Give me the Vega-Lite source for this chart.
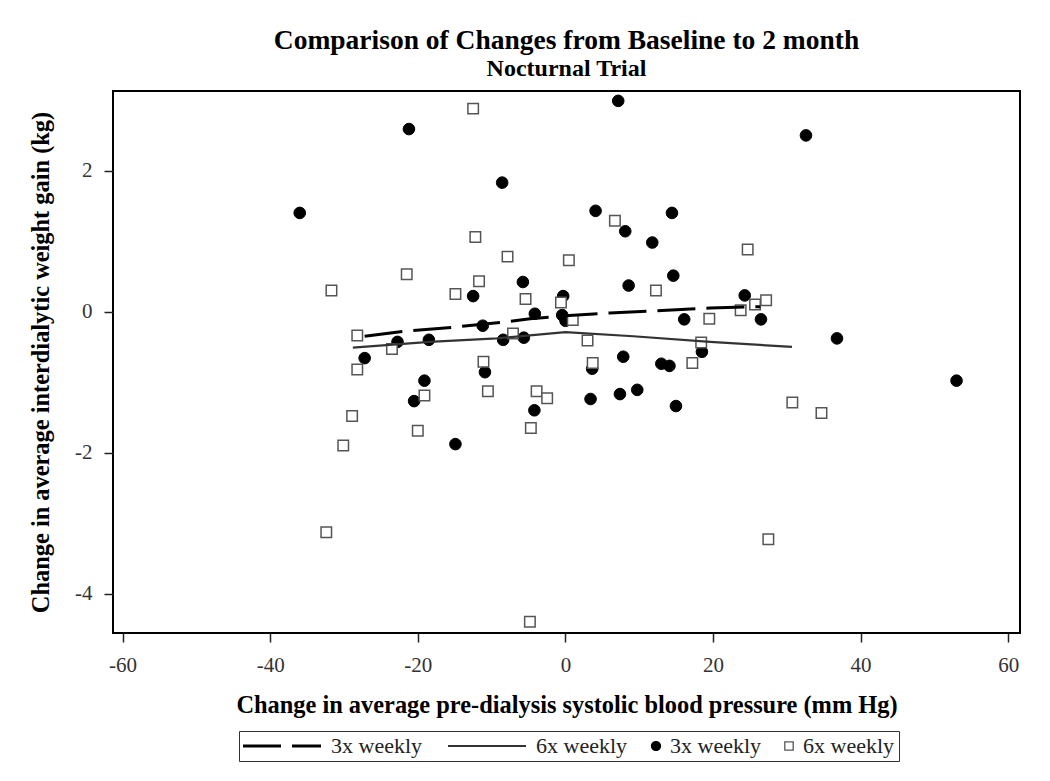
{
  "$schema": "https://vega.github.io/schema/vega-lite/v6.json",
  "width": 907,
  "height": 542,
  "autosize": "none",
  "padding": {"left": 113, "top": 91, "right": 30, "bottom": 148},
  "background": "white",
  "title": {
    "text": "Comparison of Changes from Baseline to 2 month",
    "subtitle": "Nocturnal Trial",
    "font": "Liberation Serif",
    "fontSize": 27.5,
    "fontWeight": "bold",
    "color": "black",
    "subtitleFont": "Liberation Serif",
    "subtitleFontSize": 24,
    "subtitleFontWeight": "bold",
    "subtitleColor": "black",
    "subtitlePadding": 3,
    "anchor": "middle",
    "offset": 10
  },
  "data": {
    "values": [
      {"series": "3x weekly", "x": -36.0, "y": 1.40},
      {"series": "3x weekly", "x": -21.2, "y": 2.59},
      {"series": "3x weekly", "x": -8.57, "y": 1.83},
      {"series": "3x weekly", "x": 7.16, "y": 2.99},
      {"series": "3x weekly", "x": 4.09, "y": 1.43},
      {"series": "3x weekly", "x": 8.11, "y": 1.14},
      {"series": "3x weekly", "x": 11.77, "y": 0.98},
      {"series": "3x weekly", "x": 14.44, "y": 1.40},
      {"series": "3x weekly", "x": 14.62, "y": 0.51},
      {"series": "3x weekly", "x": 8.57, "y": 0.37},
      {"series": "3x weekly", "x": -5.76, "y": 0.42},
      {"series": "3x weekly", "x": -12.5, "y": 0.22},
      {"series": "3x weekly", "x": -0.3, "y": 0.22},
      {"series": "3x weekly", "x": -4.14, "y": -0.03},
      {"series": "3x weekly", "x": -0.43, "y": -0.05},
      {"series": "3x weekly", "x": 0.02, "y": -0.13},
      {"series": "3x weekly", "x": -11.2, "y": -0.20},
      {"series": "3x weekly", "x": -18.5, "y": -0.40},
      {"series": "3x weekly", "x": -8.43, "y": -0.40},
      {"series": "3x weekly", "x": -5.63, "y": -0.37},
      {"series": "3x weekly", "x": 16.1, "y": -0.11},
      {"series": "3x weekly", "x": 18.5, "y": -0.57},
      {"series": "3x weekly", "x": 7.84, "y": -0.64},
      {"series": "3x weekly", "x": 13.0, "y": -0.74},
      {"series": "3x weekly", "x": 14.1, "y": -0.77},
      {"series": "3x weekly", "x": 24.3, "y": 0.23},
      {"series": "3x weekly", "x": 26.5, "y": -0.11},
      {"series": "3x weekly", "x": 32.6, "y": 2.50},
      {"series": "3x weekly", "x": 36.8, "y": -0.38},
      {"series": "3x weekly", "x": 53.0, "y": -0.98},
      {"series": "3x weekly", "x": -22.75, "y": -0.43},
      {"series": "3x weekly", "x": -27.2, "y": -0.66},
      {"series": "3x weekly", "x": -19.1, "y": -0.98},
      {"series": "3x weekly", "x": -20.5, "y": -1.27},
      {"series": "3x weekly", "x": -10.9, "y": -0.86},
      {"series": "3x weekly", "x": -14.9, "y": -1.88},
      {"series": "3x weekly", "x": -4.2, "y": -1.40},
      {"series": "3x weekly", "x": 3.41, "y": -1.24},
      {"series": "3x weekly", "x": 7.39, "y": -1.17},
      {"series": "3x weekly", "x": 9.74, "y": -1.11},
      {"series": "3x weekly", "x": 14.98, "y": -1.34},
      {"series": "3x weekly", "x": 3.63, "y": -0.81},
      {"series": "6x weekly", "x": -21.5, "y": 0.53},
      {"series": "6x weekly", "x": -31.7, "y": 0.30},
      {"series": "6x weekly", "x": -28.2, "y": -0.34},
      {"series": "6x weekly", "x": -23.5, "y": -0.53},
      {"series": "6x weekly", "x": -28.2, "y": -0.82},
      {"series": "6x weekly", "x": -28.9, "y": -1.48},
      {"series": "6x weekly", "x": -30.1, "y": -1.90},
      {"series": "6x weekly", "x": -32.4, "y": -3.13},
      {"series": "6x weekly", "x": -20.0, "y": -1.69},
      {"series": "6x weekly", "x": -19.1, "y": -1.19},
      {"series": "6x weekly", "x": -14.9, "y": 0.25},
      {"series": "6x weekly", "x": -11.7, "y": 0.43},
      {"series": "6x weekly", "x": -7.1, "y": -0.31},
      {"series": "6x weekly", "x": -11.1, "y": -0.71},
      {"series": "6x weekly", "x": -10.5, "y": -1.13},
      {"series": "6x weekly", "x": -3.9, "y": -1.13},
      {"series": "6x weekly", "x": -2.47, "y": -1.23},
      {"series": "6x weekly", "x": -5.4, "y": 0.18},
      {"series": "6x weekly", "x": -0.6, "y": 0.13},
      {"series": "6x weekly", "x": 1.0, "y": -0.12},
      {"series": "6x weekly", "x": 3.0, "y": -0.41},
      {"series": "6x weekly", "x": 3.7, "y": -0.73},
      {"series": "6x weekly", "x": -12.5, "y": 2.88},
      {"series": "6x weekly", "x": -12.2, "y": 1.06},
      {"series": "6x weekly", "x": -7.84, "y": 0.78},
      {"series": "6x weekly", "x": 0.47, "y": 0.73},
      {"series": "6x weekly", "x": 6.71, "y": 1.29},
      {"series": "6x weekly", "x": 12.27, "y": 0.30},
      {"series": "6x weekly", "x": 19.5, "y": -0.10},
      {"series": "6x weekly", "x": 18.4, "y": -0.44},
      {"series": "6x weekly", "x": 17.2, "y": -0.73},
      {"series": "6x weekly", "x": -4.68, "y": -1.65},
      {"series": "6x weekly", "x": -4.81, "y": -4.40},
      {"series": "6x weekly", "x": 24.7, "y": 0.88},
      {"series": "6x weekly", "x": 23.75, "y": 0.02},
      {"series": "6x weekly", "x": 25.7, "y": 0.10},
      {"series": "6x weekly", "x": 27.2, "y": 0.16},
      {"series": "6x weekly", "x": 30.75, "y": -1.29},
      {"series": "6x weekly", "x": 34.7, "y": -1.44},
      {"series": "6x weekly", "x": 27.5, "y": -3.23},
      {"series": "3x weekly line", "x": -27.2, "y": -0.35},
      {"series": "3x weekly line", "x": -22.0, "y": -0.28},
      {"series": "3x weekly line", "x": -15.0, "y": -0.22},
      {"series": "3x weekly line", "x": -8.4, "y": -0.15},
      {"series": "3x weekly line", "x": -4.8, "y": -0.10},
      {"series": "3x weekly line", "x": 0.0, "y": -0.06},
      {"series": "3x weekly line", "x": 6.0, "y": -0.02},
      {"series": "3x weekly line", "x": 19.6, "y": 0.05},
      {"series": "3x weekly line", "x": 26.4, "y": 0.07},
      {"series": "6x weekly line", "x": -28.8, "y": -0.51},
      {"series": "6x weekly line", "x": -18.4, "y": -0.43},
      {"series": "6x weekly line", "x": -9.3, "y": -0.38},
      {"series": "6x weekly line", "x": 0.0, "y": -0.29},
      {"series": "6x weekly line", "x": 9.2, "y": -0.35},
      {"series": "6x weekly line", "x": 19.6, "y": -0.43},
      {"series": "6x weekly line", "x": 30.7, "y": -0.50}
    ]
  },
  "encoding": {
    "x": {
      "field": "x",
      "type": "quantitative",
      "scale": {"domain": [-61.3, 61.6], "nice": false, "zero": false},
      "axis": {
        "title": "Change in average pre-dialysis systolic blood pressure (mm Hg)",
        "values": [-60, -40, -20, 0, 20, 40, 60],
        "labelExpr": "toString(datum.value)"
      }
    },
    "y": {
      "field": "y",
      "type": "quantitative",
      "scale": {"domain": [-4.56, 3.13], "nice": false, "zero": false},
      "axis": {
        "title": "Change in average interdialytic weight gain (kg)",
        "values": [-4, -2, 0, 2],
        "labelExpr": "toString(datum.value)"
      }
    },
    "stroke": {
      "field": "series",
      "type": "nominal",
      "scale": {
        "domain": ["3x weekly line", "6x weekly line", "3x weekly", "6x weekly"],
        "range": ["black", "#333333", "black", "#555555"]
      },
      "legend": {
        "title": null,
        "orient": "none",
        "legendX": 126,
        "legendY": 640,
        "direction": "horizontal",
        "labelExpr": "replace(datum.label, ' line', '')",
        "encode": {
          "symbols": {
            "update": {
              "shape": {"signal": "datum.value == '3x weekly' ? 'circle' : datum.value == '6x weekly' ? 'square' : 'stroke'"},
              "size": {"signal": "datum.value == '3x weekly' ? 80 : datum.value == '6x weekly' ? 70 : 6084"},
              "fill": {"signal": "datum.value == '3x weekly' ? 'black' : datum.value == '6x weekly' ? 'white' : 'transparent'"},
              "strokeDash": {"signal": "datum.value == '3x weekly line' ? [38, 11] : [1, 0]"},
              "strokeWidth": {"signal": "datum.value == '3x weekly line' ? 3 : datum.value == '6x weekly line' ? 2.2 : 1.3"},
              "opacity": {"value": 1},
              "x": {"signal": "datum.value == '3x weekly' || datum.value == '6x weekly' ? 5 : 39"}
            }
          },
          "labels": {
            "update": {
              "x": {"signal": "datum.value == '3x weekly' || datum.value == '6x weekly' ? 19 : 88"}
            }
          }
        }
      }
    }
  },
  "layer": [
    {
      "data": {"values": [{}]},
      "mark": {"type": "rule", "strokeDash": [6, 5], "strokeWidth": 1.2},
      "encoding": {"y": {"datum": 0}, "x": null, "stroke": {"value": "#999999"}}
    },
    {
      "data": {"values": [{}]},
      "mark": {"type": "rule", "strokeDash": [6, 5], "strokeWidth": 1.2},
      "encoding": {"x": {"datum": 0}, "y": null, "stroke": {"value": "#999999"}}
    },
    {
      "transform": [{"filter": "datum.series == '3x weekly'"}],
      "mark": {"type": "point", "shape": "circle", "filled": true, "color": "black", "size": 135, "strokeWidth": 1, "opacity": 1}
    },
    {
      "transform": [{"filter": "datum.series == '6x weekly'"}],
      "mark": {"type": "point", "shape": "square", "filled": true, "color": "white", "size": 110, "strokeWidth": 1.5, "opacity": 1}
    },
    {
      "transform": [{"filter": "datum.series == '3x weekly line'"}],
      "mark": {"type": "line", "strokeDash": [38, 11], "strokeWidth": 3}
    },
    {
      "transform": [{"filter": "datum.series == '6x weekly line'"}],
      "mark": {"type": "line", "strokeWidth": 2.2}
    }
  ],
  "config": {
    "view": {"stroke": "black", "strokeWidth": 2},
    "axis": {
      "grid": false,
      "domain": false,
      "labelFont": "Liberation Serif",
      "labelFontSize": 21,
      "labelColor": "#333333",
      "tickColor": "#222222",
      "tickWidth": 1.5,
      "tickSize": 9,
      "titleFont": "Liberation Serif",
      "titleFontSize": 24.4,
      "titleFontWeight": "bold",
      "titleColor": "black"
    },
    "axisX": {"labelPadding": 12, "titlePadding": 18},
    "axisY": {"labelPadding": 12, "titlePadding": 21},
    "legend": {
      "labelFont": "Liberation Serif",
      "labelFontSize": 22,
      "labelColor": "#222222",
      "strokeColor": "#333333",
      "padding": 4,
      "columnPadding": 20,
      "labelOffset": 8
    }
  }
}
